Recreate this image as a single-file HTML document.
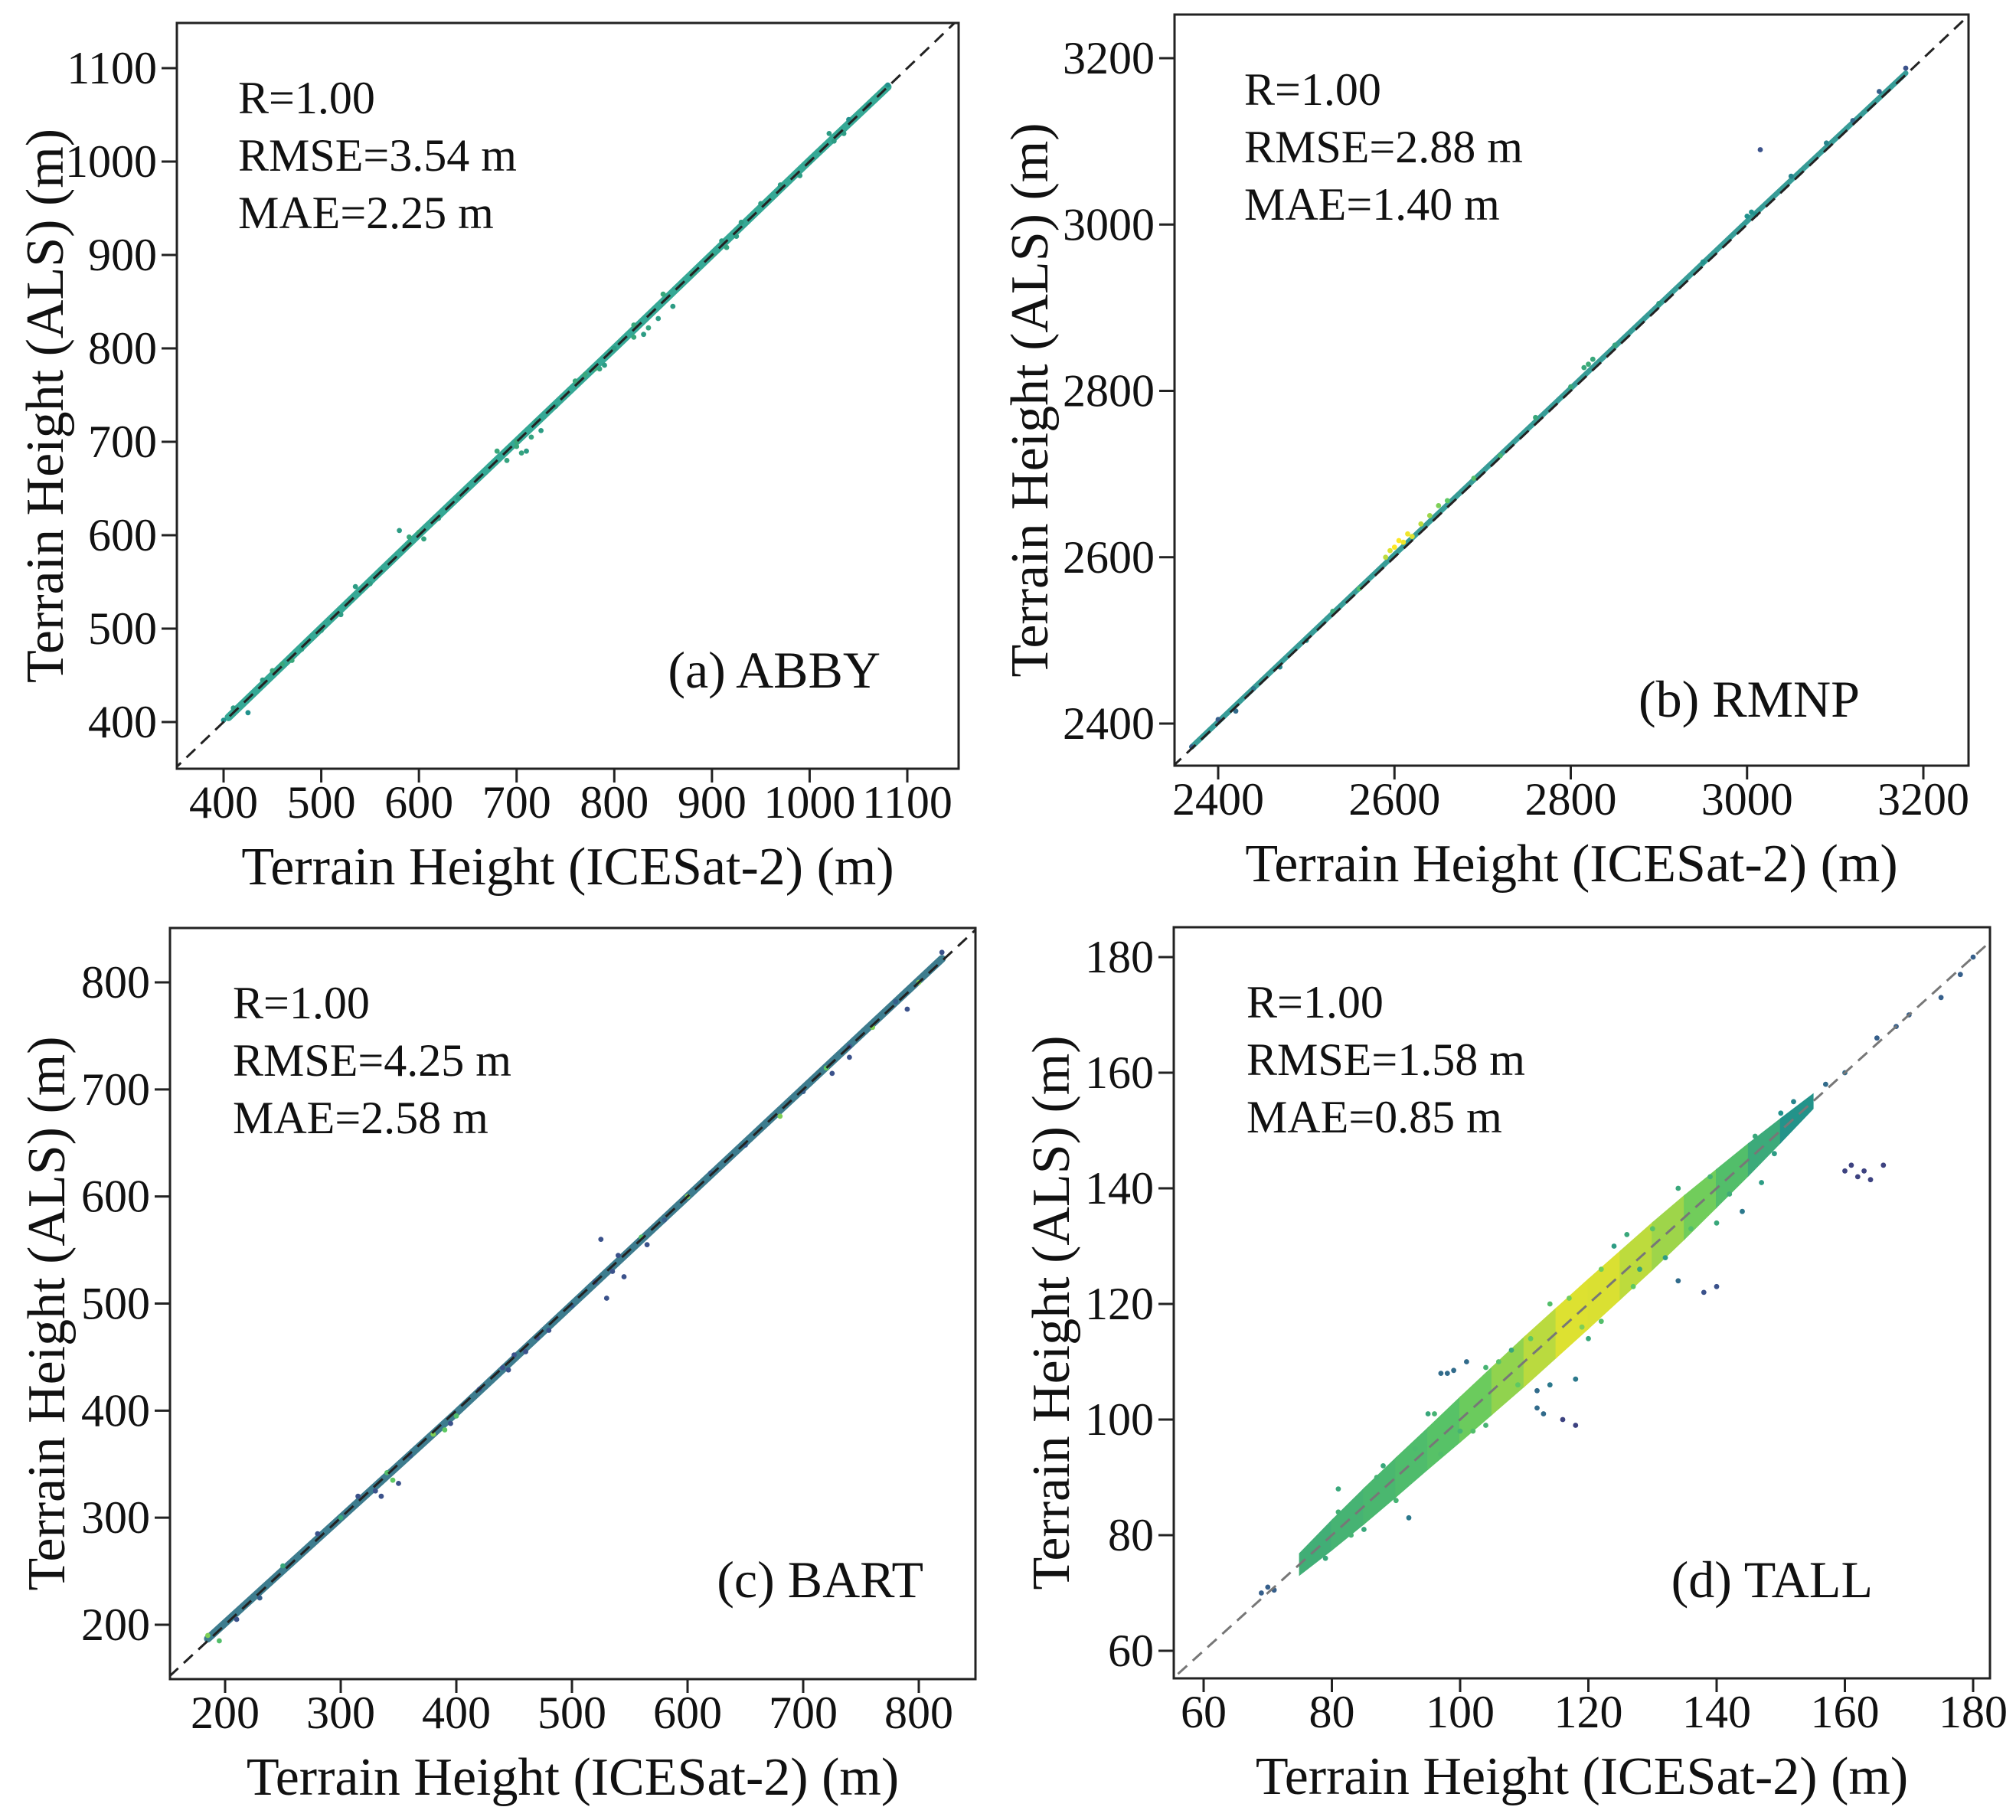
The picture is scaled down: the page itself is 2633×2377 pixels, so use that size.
<!DOCTYPE html>
<html><head><meta charset="utf-8"><style>
html,body{margin:0;padding:0;background:#fff;overflow:hidden;width:2633px;height:2377px}
svg{display:block}
text{font-family:"Liberation Serif",serif;fill:#111}
</style></head><body>
<svg id="fig" width="2633" height="2377" viewBox="0 0 2633 2377" xmlns="http://www.w3.org/2000/svg"></svg>
<script>
// ---------- Panel (a) ABBY data ----------
const aX = [400,410,425,440,460,480,500,520,535,550,580,590,600,620,640,660,680,700,710,720,740,760,780,790,800,820,830,850,860,880,900,910,930,950,970,990,1000,1020,1040,1060,1080,690,700,705,715,725,820,835,845,770,785,590,605,1025,1035,915,925,450,470];
const aY = [402,415,410,445,462,478,498,515,545,548,605,590,603,618,640,662,690,695,690,722,738,765,778,782,800,825,815,858,845,880,900,915,935,955,975,985,1000,1030,1045,1060,1082,680,700,688,705,712,812,822,832,772,778,598,596,1022,1030,908,920,455,466];
const aD = [0.5,0.55,0.5,0.55,0.6,0.55,0.55,0.55,0.55,0.55,0.55,0.6,0.6,0.55,0.55,0.55,0.6,0.6,0.55,0.55,0.55,0.6,0.6,0.55,0.55,0.6,0.55,0.6,0.55,0.6,0.6,0.55,0.55,0.55,0.55,0.55,0.55,0.55,0.5,0.5,0.5,0.58,0.6,0.58,0.58,0.55,0.6,0.58,0.55,0.6,0.58,0.6,0.58,0.55,0.55,0.58,0.55,0.6,0.6];
const aBandX = [405,600,800,1000,1080];
const aBandY = [405,601,800,1001,1080];
const aTicks = [400,500,600,700,800,900,1000,1100];
// ---------- Panel (b) RMNP data ----------
const bX = [2370,2400,2420,2440,2470,2500,2530,2560,2590,2600,2610,2620,2640,2660,2690,2720,2760,2800,2820,2850,2900,2950,3000,3015,3050,3090,3120,3150,3180,2595,2605,2615,2630,2650,2815,2825,3005,3010];
const bY = [2372,2405,2415,2442,2468,2500,2535,2562,2600,2612,2618,2625,2650,2668,2695,2722,2768,2805,2832,2855,2905,2955,3010,3090,3058,3098,3125,3160,3188,2608,2620,2628,2640,2662,2828,2838,3015,3012];
const bD = [0.3,0.3,0.35,0.4,0.45,0.5,0.6,0.7,0.9,1.0,0.98,0.95,0.85,0.75,0.7,0.65,0.6,0.6,0.62,0.58,0.55,0.5,0.5,0.25,0.45,0.45,0.35,0.3,0.25,0.95,1.0,0.98,0.9,0.8,0.6,0.6,0.5,0.5];
const bBandX = [2370,2600,2800,3000,3180];
const bBandY = [2372,2603,2803,3004,3182];
const bTicks = [2400,2600,2800,3000,3200];
// ---------- Panel (c) BART data ----------
const cX = [185,195,210,230,250,280,300,315,330,345,360,380,400,420,440,460,480,500,520,530,540,560,580,600,620,650,680,700,720,740,760,780,800,820,335,340,350,390,395,445,450,470,525,535,545,565,725,740,790];
const cY = [190,185,205,225,255,285,300,320,325,335,358,378,395,420,440,455,475,498,520,505,545,562,578,600,622,648,675,698,720,740,758,782,800,828,320,342,332,382,388,438,452,468,560,530,525,555,715,730,775];
const cD = [0.8,0.7,0.25,0.3,0.6,0.25,0.6,0.25,0.25,0.75,0.3,0.8,0.7,0.25,0.25,0.25,0.25,0.3,0.25,0.25,0.25,0.7,0.3,0.8,0.3,0.3,0.8,0.3,0.75,0.25,0.8,0.3,0.8,0.25,0.25,0.7,0.25,0.75,0.25,0.25,0.25,0.25,0.25,0.25,0.25,0.25,0.25,0.25,0.25];
const cBandX = [185,400,600,820];
const cBandY = [187,398,600,822];
const cTicks = [200,300,400,500,600,700,800];
// ---------- Panel (d) TALL data ----------
const dBandX = [75,80,85,90,95,100,105,110,115,120,125,130,135,140,145,150,155];
const dBandD = [0.62,0.64,0.66,0.68,0.7,0.74,0.8,0.86,0.93,0.97,0.92,0.88,0.82,0.74,0.66,0.56,0.46];
const dBandS = [1.8,2.5,3.0,3.3,3.5,3.8,4.0,4.2,4.2,4.2,4.1,4.0,3.7,3.2,2.7,2.0,1.2];
const dX = [69,70,71,81,92,97,98,99,101,112,113,116,118,118,112,114,134,138,140,144,160,161,162,163,164,166,152,157,160,165,168,170,175,178,180,88,95,104,108,124,128,132,147,150,79,85,90,100,120,126,83,87,93,97,102,106,109,111,117,119,122,127,130,136,139,142,146,149,77,81,96,104,114,122,134,140];
const dY = [70,71,70.5,88,83,108,108,108.5,110,102,101,100,99,107,105,106,124,122,123,136,143,144,142,143,141.5,144,155,158,160,166,168,170,173,177,180,92,101,109,112,130,126,128,141,153,76,81,86,98,114,132,80,90,95,94,98,110,106,114,121,116,126,123,133,133,142,139,149,146,77,84,101,99,120,117,140,134];
const dD = [0.3,0.3,0.3,0.6,0.4,0.35,0.35,0.35,0.35,0.35,0.35,0.2,0.2,0.4,0.35,0.4,0.35,0.25,0.25,0.4,0.2,0.2,0.2,0.2,0.2,0.2,0.45,0.35,0.35,0.3,0.3,0.3,0.3,0.3,0.3,0.6,0.6,0.65,0.6,0.55,0.6,0.55,0.55,0.5,0.6,0.6,0.65,0.65,0.6,0.6,0.65,0.65,0.68,0.7,0.7,0.72,0.75,0.75,0.78,0.8,0.78,0.75,0.72,0.7,0.65,0.62,0.6,0.55,0.62,0.64,0.65,0.65,0.7,0.7,0.6,0.6];
const dTicks = [60,80,100,120,140,160,180];

const SVGNS = "http://www.w3.org/2000/svg";
const svg = document.getElementById('fig');
function el(tag, attrs, parent){const e=document.createElementNS(SVGNS,tag);for(const k in attrs)e.setAttribute(k,attrs[k]);(parent||svg).appendChild(e);return e;}
const VS=[[0,[68,1,84]],[0.25,[59,82,139]],[0.5,[33,145,140]],[0.75,[94,201,98]],[1,[253,231,37]]];
function viridis(t){t=Math.max(0,Math.min(1,t));for(let i=1;i<VS.length;i++){if(t<=VS[i][0]){const a=VS[i-1],b=VS[i],f=(t-a[0])/(b[0]-a[0]);const c=a[1].map((v,j)=>Math.round(v+(b[1][j]-v)*f));return `rgb(${c.join(',')})`;}}return 'rgb(253,231,37)';}
function lin(d0,d1,r0,r1){return v=>r0+(v-d0)*(r1-r0)/(d1-d0);}

const panels=[
 {id:'a',L:231,T:30,R:1252,B:1004,sx:lin(400,1100,292,1185),sy:lin(400,1100,943,89),ticks:aTicks,xs:aX,ys:aY,ds:aD,bx:aBandX,by:aBandY,band:'rgb(31,158,137)',bandW:10,
  stats:['R=1.00','RMSE=3.54 m','MAE=2.25 m'],sxOff:80,label:'(a) ABBY',lx:1150,ly:898,ytOff:-149,dash:'#222'},
 {id:'b',L:1534,T:19,R:2571,B:1000,sx:lin(2400,3200,1591,2512),sy:lin(2400,3200,945,76),ticks:bTicks,xs:bX,ys:bY,ds:bD,bx:bBandX,by:bBandY,band:'rgb(33,145,140)',bandW:7,
  stats:['R=1.00','RMSE=2.88 m','MAE=1.40 m'],sxOff:91,label:'(b) RMNP',lx:2429,ly:936,ytOff:-166,dash:'#222'},
 {id:'c',L:222,T:1212,R:1274,B:2193,sx:lin(200,800,294,1200),sy:lin(200,800,2122,1283),ticks:cTicks,xs:cX,ys:cY,ds:cD,bx:cBandX,by:cBandY,band:'rgb(40,110,130)',bandW:10,
  stats:['R=1.00','RMSE=4.25 m','MAE=2.58 m'],sxOff:82,label:'(c) BART',lx:1206,ly:2086,ytOff:-138,dash:'#222'},
 {id:'d',L:1533,T:1211,R:2599,B:2192,sx:lin(60,180,1572,2577),sy:lin(60,180,2156,1250),ticks:dTicks,xs:dX,ys:dY,ds:dD,band:null,
  stats:['R=1.00','RMSE=1.58 m','MAE=0.85 m'],sxOff:95,label:'(d) TALL',lx:2446,ly:2086,ytOff:-137,dash:'#777'}
];

panels.forEach(p=>{
  const g=el('g',{});
  
  
  const cp=el('clipPath',{id:'clip-'+p.id},g);
  el('rect',{x:p.L,y:p.T,width:p.R-p.L,height:p.B-p.T},cp);
  const plot=el('g',{'clip-path':`url(#clip-${p.id})`},g);
  
  
  if(p.band){
    const pts=p.bx.map((x,i)=>`${p.sx(x).toFixed(1)},${p.sy(p.by[i]).toFixed(1)}`).join(' ');
    const pl=el('polyline',{points:pts,fill:'none',stroke:p.band,'stroke-width':p.bandW,'stroke-linejoin':'round','stroke-linecap':'round',opacity:0.9},plot);
    
    
  } else {
    for(let i=0;i<dBandX.length-1;i++){
      const x0=dBandX[i],x1=dBandX[i+1];
      const pts=[[x0,x0-dBandS[i]],[x1,x1-dBandS[i+1]],[x1,x1+dBandS[i+1]],[x0,x0+dBandS[i]]].map(q=>`${p.sx(q[0]).toFixed(1)},${p.sy(q[1]).toFixed(1)}`).join(' ');
      const col=viridis((dBandD[i]+dBandD[i+1])/2);
      const poly=el('polygon',{points:pts,fill:col,stroke:col,'stroke-width':2},plot);
      
      
    }
  }
  p.xs.forEach((x,i)=>{
    const c=el('circle',{cx:p.sx(x).toFixed(1),cy:p.sy(p.ys[i]).toFixed(1),r:3.4,fill:viridis(p.ds[i])},plot);
    
    
  });
  const lo=p.ticks[0]-200, hi=p.ticks[p.ticks.length-1]+200;
  const ln=el('line',{x1:p.sx(lo),y1:p.sy(lo),x2:p.sx(hi),y2:p.sy(hi),stroke:p.dash,'stroke-width':3,'stroke-dasharray':'16 10'},plot);
  
  
  const fr=el('rect',{x:p.L,y:p.T,width:p.R-p.L,height:p.B-p.T,fill:'none',stroke:'#222','stroke-width':3},g);
  
  
  p.ticks.forEach(t=>{
    const X=p.sx(t),Y=p.sy(t);
    const tx=el('line',{x1:X,y1:p.B,x2:X,y2:p.B+18,stroke:'#222','stroke-width':3},g);
    
    
    const lx=el('text',{x:X,y:p.B+64,'text-anchor':'middle','font-size':60},g);
    lx.textContent=t;
    
    
    const ty=el('line',{x1:p.L-20,y1:Y,x2:p.L,y2:Y,stroke:'#222','stroke-width':3},g);
    
    
    const ly=el('text',{x:p.L-26,y:Y+20,'text-anchor':'end','font-size':60},g);
    ly.textContent=t;
    
    
  });
  const xt=el('text',{x:(p.L+p.R)/2,y:p.B+151,'text-anchor':'middle','font-size':70},g);
  xt.textContent='Terrain Height (ICESat-2) (m)';
  
  
  const cy=(p.T+p.B)/2+13, cx=p.L+p.ytOff;
  const yt=el('text',{x:cx,y:cy,'text-anchor':'middle','font-size':70,transform:`rotate(-90 ${cx} ${cy})`},g);
  yt.textContent='Terrain Height (ALS) (m)';
  
  
  p.stats.forEach((s,i)=>{
    const st=el('text',{x:p.L+p.sxOff,y:p.T+118+i*75,'font-size':60},g);
    st.textContent=s;
    
    
  });
  const lb=el('text',{x:p.lx,y:p.ly,'text-anchor':'end','font-size':68},g);
  lb.textContent=p.label;
  
  
});
</script>
</body></html>
